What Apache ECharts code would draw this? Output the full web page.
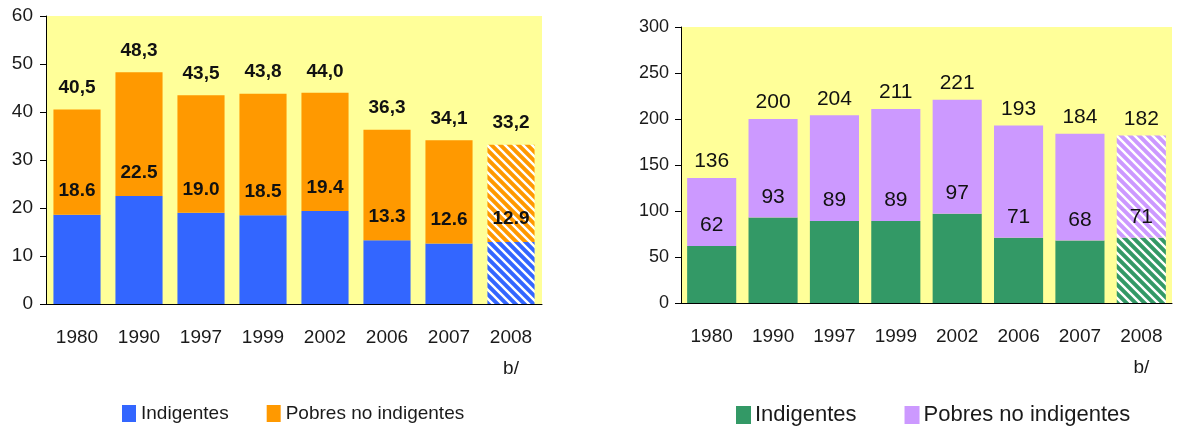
<!DOCTYPE html>
<html>
<head>
<meta charset="utf-8">
<script src="https://cdn.jsdelivr.net/npm/echarts@6/dist/echarts.min.js"></script>
<style>
  html, body { margin: 0; padding: 0; background: #fff; }
  #chart { width: 1181px; height: 427px; }
</style>
</head>
<body>
<div id="chart"></div>
<script>
const years = ['1980', '1990', '1997', '1999', '2002', '2006', '2007', '2008'];
const noteIndex = 7; // 2008 b/ (proyección, barra rayada)

// porcentajes de la población
const pctTotal = [40.5, 48.3, 43.5, 43.8, 44.0, 36.3, 34.1, 33.2];
const pctIndig = [18.6, 22.5, 19.0, 18.5, 19.4, 13.3, 12.6, 12.9];
const pctAxis = [0, 60, 10]; // min, max, paso

// millones de personas
const milTotal = [136, 200, 204, 211, 221, 193, 184, 182];
const milIndig = [62, 93, 89, 89, 97, 71, 68, 71];
const milAxis = [0, 300, 50];

const font = '"Liberation Sans Narrow", "Arial Narrow", "Liberation Sans", Arial, sans-serif';
const yellow = '#FFFF99';

// relleno rayado para 2008
function stripes(color) {
  const c = document.createElement('canvas');
  c.width = 9;
  c.height = 9;
  const ctx = c.getContext('2d');
  ctx.fillStyle = color;
  ctx.fillRect(0, 0, 9, 9);
  ctx.strokeStyle = '#fff';
  ctx.lineWidth = 2.4;
  ctx.beginPath();
  ctx.moveTo(-2, -2); ctx.lineTo(11, 11);
  ctx.moveTo(7, -2); ctx.lineTo(11, 2);
  ctx.moveTo(-2, 7); ctx.lineTo(2, 11);
  ctx.stroke();
  return { image: c, repeat: 'repeat' };
}

function withNote(values, color) {
  return values.map((v, i) => (i === noteIndex ? { value: v, itemStyle: { color: stripes(color) } } : v));
}

function diff(total, part) {
  return total.map((t, i) => +(t - part[i]).toFixed(1));
}

function xAxisFor(gridIndex) {
  return {
    type: 'category',
    gridIndex,
    data: years.map((y, i) => (i === noteIndex ? y + '\nb/' : y)),
    axisLine: { lineStyle: { color: '#000', width: 1 } },
    axisTick: { length: 6, lineStyle: { color: '#000' } },
    axisLabel: {
      interval: 0,
      color: '#1a1a1a',
      fontFamily: font,
      fontSize: 19,
      lineHeight: 31,
      margin: 18,
    },
  };
}

function yAxisFor(gridIndex, axis, fontSize, margin) {
  return {
    type: 'value',
    gridIndex,
    min: axis[0],
    max: axis[1],
    interval: axis[2],
    splitLine: { show: false },
    axisLine: { show: true, lineStyle: { color: '#000', width: 1 } },
    axisTick: { show: true, length: 6, lineStyle: { color: '#000' } },
    axisLabel: { color: '#1a1a1a', fontFamily: font, fontSize, margin },
  };
}

const chart = echarts.init(document.getElementById('chart'), null, { renderer: 'canvas' });

const option = {
  animation: false,
  grid: [
    { left: 46, top: 16, width: 496, height: 288, show: true, backgroundColor: yellow, borderWidth: 0 },
    { left: 681, top: 27, width: 491, height: 276, show: true, backgroundColor: yellow, borderWidth: 0 },
  ],
  xAxis: [xAxisFor(0), xAxisFor(1)],
  yAxis: [yAxisFor(0, pctAxis, 19, 13), yAxisFor(1, milAxis, 18, 12)],
  legend: [
    {
      left: 117,
      top: 399,
      icon: 'rect',
      itemWidth: 14,
      itemHeight: 17,
      itemGap: 38,
      data: ['Indigentes', 'Pobres no indigentes'],
      textStyle: { color: '#1a1a1a', fontFamily: font, fontSize: 19, padding: [0, 0, 0, 0] },
    },
    {
      left: 731,
      top: 399,
      icon: 'rect',
      itemWidth: 15,
      itemHeight: 18,
      itemGap: 48,
      data: ['Indigentes (millones)', 'Pobres no indigentes (millones)'],
      formatter: (name) => name.replace(' (millones)', ''),
      textStyle: { color: '#1a1a1a', fontFamily: font, fontSize: 22, padding: [0, 0, 0, -1] },
    },
  ],
  series: [
    {
      name: 'Indigentes',
      type: 'bar',
      stack: 'pct',
      xAxisIndex: 0,
      yAxisIndex: 0,
      barCategoryGap: '24%',
      itemStyle: { color: '#3366FF' },
      label: {
        show: true,
        position: 'top',
        distance: 14,
        color: '#111',
        fontFamily: font,
        fontWeight: 'bold',
        fontSize: 19,
        formatter: (p) => pctIndig[p.dataIndex].toFixed(1),
      },
      data: withNote(pctIndig, '#3366FF'),
    },
    {
      name: 'Pobres no indigentes',
      type: 'bar',
      stack: 'pct',
      xAxisIndex: 0,
      yAxisIndex: 0,
      barCategoryGap: '24%',
      itemStyle: { color: '#FF9900' },
      label: {
        show: true,
        position: 'top',
        distance: 12,
        color: '#111',
        fontFamily: font,
        fontWeight: 'bold',
        fontSize: 19,
        formatter: (p) => pctTotal[p.dataIndex].toFixed(1).replace('.', ','),
      },
      data: withNote(diff(pctTotal, pctIndig), '#FF9900'),
    },
    {
      name: 'Indigentes (millones)',
      type: 'bar',
      stack: 'mil',
      xAxisIndex: 1,
      yAxisIndex: 1,
      barCategoryGap: '20%',
      itemStyle: { color: '#339966' },
      label: {
        show: true,
        position: 'top',
        distance: 10,
        color: '#111',
        fontFamily: font,
        fontSize: 21,
        formatter: (p) => String(milIndig[p.dataIndex]),
      },
      data: withNote(milIndig, '#339966'),
    },
    {
      name: 'Pobres no indigentes (millones)',
      type: 'bar',
      stack: 'mil',
      xAxisIndex: 1,
      yAxisIndex: 1,
      barCategoryGap: '20%',
      itemStyle: { color: '#CC99FF' },
      label: {
        show: true,
        position: 'top',
        distance: 6,
        color: '#111',
        fontFamily: font,
        fontSize: 21,
        formatter: (p) => String(milTotal[p.dataIndex]),
      },
      data: withNote(diff(milTotal, milIndig), '#CC99FF'),
    },
  ],
};

chart.setOption(option);
</script>
</body>
</html>
